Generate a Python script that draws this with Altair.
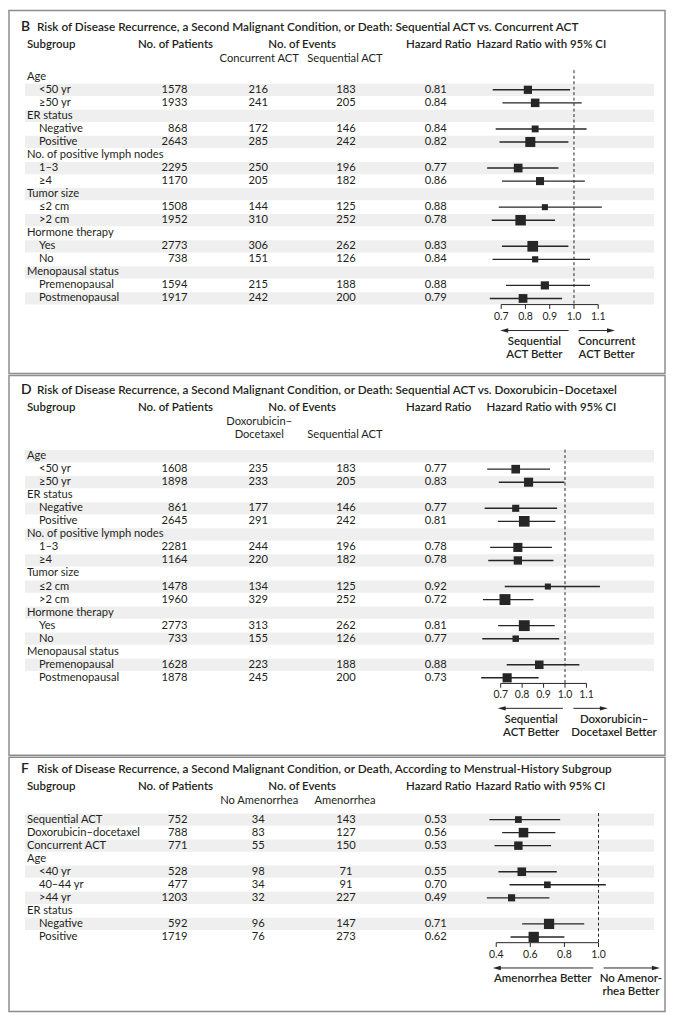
import altair as alt
import pandas as pd

FONT = "Lato"
TXT = "#231f20"
INK = "#262626"
BAND = "#efefef"
FRAME = "#8d8d8d"
W = 658
ROW_PX = 13.08

# ---------------- Panel B ----------------
b_title = "Risk of Disease Recurrence, a Second Malignant Condition, or Death: Sequential ACT vs. Concurrent ACT"
b_labels = ["Age", "<50 yr", "≥50 yr", "ER status", "Negative", "Positive",
            "No. of positive lymph nodes", "1–3", "≥4", "Tumor size", "≤2 cm", ">2 cm",
            "Hormone therapy", "Yes", "No", "Menopausal status", "Premenopausal", "Postmenopausal"]
b_patients = [None, 1578, 1933, None, 868, 2643, None, 2295, 1170, None, 1508, 1952, None, 2773, 738, None, 1594, 1917]
b_ev_a = [None, 216, 241, None, 172, 285, None, 250, 205, None, 144, 310, None, 306, 151, None, 215, 242]
b_ev_b = [None, 183, 205, None, 146, 242, None, 196, 182, None, 125, 252, None, 262, 126, None, 188, 200]
b_hr = [None, 0.81, 0.84, None, 0.84, 0.82, None, 0.77, 0.86, None, 0.88, 0.78, None, 0.83, 0.84, None, 0.88, 0.79]
b_lo = [None, 0.665, 0.705, None, 0.677, 0.693, None, 0.642, 0.703, None, 0.690, 0.661, None, 0.703, 0.664, None, 0.720, 0.653]
b_hi = [None, 0.984, 1.032, None, 1.052, 0.977, None, 0.936, 1.045, None, 1.115, 0.922, None, 0.977, 1.066, None, 1.066, 0.951]
b_sub = [["Concurrent ACT"], ["Sequential ACT"]]
b_ticks = [0.7, 0.8, 0.9, 1.0, 1.1]
b_better_left = ["Sequential", "ACT Better"]
b_better_right = ["Concurrent", "ACT Better"]

# ---------------- Panel D ----------------
d_title = "Risk of Disease Recurrence, a Second Malignant Condition, or Death: Sequential ACT vs. Doxorubicin–Docetaxel"
d_labels = b_labels
d_patients = [None, 1608, 1898, None, 861, 2645, None, 2281, 1164, None, 1478, 1960, None, 2773, 733, None, 1628, 1878]
d_ev_a = [None, 235, 233, None, 177, 291, None, 244, 220, None, 134, 329, None, 313, 155, None, 223, 245]
d_ev_b = [None, 183, 205, None, 146, 242, None, 196, 182, None, 125, 252, None, 262, 126, None, 188, 200]
d_hr = [None, 0.77, 0.83, None, 0.77, 0.81, None, 0.78, 0.78, None, 0.92, 0.72, None, 0.81, 0.77, None, 0.88, 0.73]
d_lo = [None, 0.637, 0.691, None, 0.625, 0.687, None, 0.651, 0.642, None, 0.719, 0.617, None, 0.688, 0.614, None, 0.728, 0.609]
d_hi = [None, 0.930, 0.997, None, 0.963, 0.955, None, 0.939, 0.946, None, 1.163, 0.853, None, 0.952, 0.973, None, 1.067, 0.877]
d_sub = [["Doxorubicin–", "Docetaxel"], ["", "Sequential ACT"]]
d_ticks = [0.7, 0.8, 0.9, 1.0, 1.1]
d_better_left = ["Sequential", "ACT Better"]
d_better_right = ["Doxorubicin–", "Docetaxel Better"]

# ---------------- Panel F ----------------
f_title = "Risk of Disease Recurrence, a Second Malignant Condition, or Death, According to Menstrual-History Subgroup"
f_labels = ["Sequential ACT", "Doxorubicin–docetaxel", "Concurrent ACT", "Age", "<40 yr", "40–44 yr",
            ">44 yr", "ER status", "Negative", "Positive"]
f_patients = [752, 788, 771, None, 528, 477, 1203, None, 592, 1719]
f_ev_a = [34, 83, 55, None, 98, 34, 32, None, 96, 76]
f_ev_b = [143, 127, 150, None, 71, 91, 227, None, 147, 273]
f_hr = [0.53, 0.56, 0.53, None, 0.55, 0.70, 0.49, None, 0.71, 0.62]
f_lo = [0.360, 0.435, 0.390, None, 0.413, 0.478, 0.345, None, 0.552, 0.484]
f_hi = [0.775, 0.747, 0.722, None, 0.755, 1.043, 0.712, None, 0.916, 0.800]
f_sub = [["No Amenorrhea"], ["Amenorrhea"]]
f_ticks = [0.4, 0.6, 0.8, 1.0]
f_better_left = ["Amenorrhea Better"]
f_better_right = ["No Amenor-", "rhea Better"]

ONE = pd.DataFrame({"a": [0]})


def panel(letter, title, labels, patients, ev_a, ev_b, hr, lo, hi, sub, ticks,
          better_left, better_right, cfg):
    ppu = cfg["ppu"]
    x0 = cfg["anchor_val"] - cfg["anchor_px"] / ppu
    xs = alt.Scale(domain=[x0, x0 + W / ppu], nice=False, zero=False)
    H = cfg["height"]
    top = cfg["top"]
    ys = alt.Scale(domain=[top, top + H / ROW_PX], reverse=True, nice=False, zero=False)

    n = len(labels)
    has, indent, seen = [], [], False
    for p in patients:
        if p is None:
            seen = True
            has.append(False)
            indent.append(0)
        else:
            has.append(True)
            indent.append(1 if seen else 0)
    df = pd.DataFrame({
        "idx": list(range(n)),
        "label": labels,
        "has": has,
        "indent": indent,
        "pat": [str(v) if v is not None else "" for v in patients],
        "ea": [str(v) if v is not None else "" for v in ev_a],
        "eb": [str(v) if v is not None else "" for v in ev_b],
        "hrs": [f"{v:.2f}" if v is not None else "" for v in hr],
        "hr": [v if v is not None else 0 for v in hr],
        "lo": [v if v is not None else 0 for v in lo],
        "hi": [v if v is not None else 0 for v in hi],
        "shade": [(i % 2) == cfg["parity"] for i in range(n)],
    })
    base = alt.Chart(df)
    Y = alt.Y("idx:Q", scale=ys, axis=None)

    def XD(v):
        return alt.XDatum(v, type="quantitative", scale=xs, axis=None)

    def YD(v):
        return alt.YDatum(v, type="quantitative", scale=ys, axis=None)

    def text(s, x, yrow, align="left", weight="normal", size=11):
        return alt.Chart(ONE).mark_text(
            text=s, align=align, baseline="middle", font=FONT, fontSize=size,
            fontWeight=weight, color=TXT
        ).encode(x=alt.value(x), y=YD(yrow))

    def text_hr(s, v, yrow, weight=600, size=11.5):
        return alt.Chart(ONE).mark_text(
            text=s, align="center", baseline="middle", font=FONT, fontSize=size,
            fontWeight=weight, color=TXT
        ).encode(x=XD(v), y=YD(yrow))

    layers = []
    # shaded bands
    layers.append(
        base.transform_filter("datum.shade")
        .transform_calculate(y0="datum.idx - 0.47", y1="datum.idx + 0.47")
        .mark_rect(color=BAND)
        .encode(x=alt.value(16), x2=alt.value(647),
                y=alt.Y("y0:Q", scale=ys, axis=None), y2="y1:Q")
    )
    # reference dashed line at 1.0
    layers.append(
        alt.Chart(ONE).mark_rule(color=INK, strokeWidth=1, strokeDash=[3, 2.5])
        .encode(x=XD(1.0), y=YD(-0.5), y2=alt.Y2Datum(cfg["axis"]))
    )
    # CI lines
    layers.append(
        base.transform_filter("datum.has").mark_rule(color=INK, strokeWidth=1.4)
        .encode(x=alt.X("lo:Q", scale=xs, axis=None), x2="hi:Q", y=Y)
    )
    # square markers, size from precision of the estimate
    layers.append(
        base.transform_filter("datum.has")
        .transform_calculate(sz=f"pow({cfg['k']} / pow(log(datum.hi / datum.lo), {cfg['p']}), 2)")
        .mark_point(shape="square", filled=True, color=INK, opacity=1, strokeWidth=0)
        .encode(x=alt.X("hr:Q", scale=xs, axis=None), y=Y, size=alt.Size("sz:Q", scale=None))
    )
    # table text
    tx = dict(baseline="middle", font=FONT, fontSize=11.2, color=TXT)
    layers.append(base.transform_filter("datum.indent == 0").mark_text(align="left", **tx)
                  .encode(x=alt.value(18), y=Y, text="label:N"))
    layers.append(base.transform_filter("datum.indent == 1").mark_text(align="left", **tx)
                  .encode(x=alt.value(30), y=Y, text="label:N"))
    layers.append(base.mark_text(align="right", **tx).encode(x=alt.value(179), y=Y, text="pat:N"))
    layers.append(base.mark_text(align="center", **tx).encode(x=alt.value(250), y=Y, text="ea:N"))
    layers.append(base.mark_text(align="center", **tx).encode(x=alt.value(338), y=Y, text="eb:N"))
    layers.append(base.mark_text(align="center", **tx).encode(x=alt.value(428), y=Y, text="hrs:N"))

    # titles and headers
    layers.append(text(letter, 12, cfg["title"], weight=600, size=14))
    layers.append(text(title, 28, cfg["title"], weight=600, size=11.8))
    layers.append(text("Subgroup", 18, cfg["head"], weight=600, size=11.5))
    layers.append(text("No. of Patients", 167, cfg["head"], align="center", weight=600, size=11.5))
    layers.append(text("No. of Events", 294, cfg["head"], align="center", weight=600, size=11.5))
    layers.append(text("Hazard Ratio", 431, cfg["head"], align="center", weight=600, size=11.5))
    layers.append(text("Hazard Ratio with 95% CI", cfg["ci_x"], cfg["head"], weight=600, size=11.5))
    for col_x, lines in zip([251, 337], sub):
        for j, s in enumerate(lines):
            if s:
                layers.append(text(s, col_x, cfg["sub"][j], align="center", size=11.2))

    # axis
    tdf = pd.DataFrame({"t": ticks})
    layers.append(alt.Chart(ONE).mark_rule(color=INK, strokeWidth=1)
                  .encode(x=XD(ticks[0]), x2=alt.X2Datum(ticks[-1]), y=YD(cfg["axis"])))
    layers.append(alt.Chart(tdf).mark_rule(color=INK, strokeWidth=1)
                  .encode(x=alt.X("t:Q", scale=xs, axis=None), y=YD(cfg["axis"]),
                          y2=alt.Y2Datum(cfg["axis"] + 0.33)))
    layers.append(alt.Chart(tdf).mark_text(baseline="middle", align="center", font=FONT,
                                           fontSize=10.5, color=TXT)
                  .encode(x=alt.X("t:Q", scale=xs, axis=None), y=YD(cfg["lab"]),
                          text=alt.Text("t:Q", format=".1f")))

    # arrows
    la, lb = cfg["arrow_left"]
    ra, rb = cfg["arrow_right"]
    head = 4.0 / ppu
    layers.append(alt.Chart(ONE).mark_rule(color=INK, strokeWidth=1)
                  .encode(x=XD(lb + head), x2=alt.X2Datum(la), y=YD(cfg["arrow"])))
    layers.append(alt.Chart(ONE).mark_rule(color=INK, strokeWidth=1)
                  .encode(x=XD(ra), x2=alt.X2Datum(rb - head), y=YD(cfg["arrow"])))
    layers.append(alt.Chart(ONE).mark_point(shape="M-1,0L1,-0.55L1,0.55Z", filled=True,
                                            color=INK, opacity=1, size=64, strokeWidth=0)
                  .encode(x=XD(lb + head), y=YD(cfg["arrow"])))
    layers.append(alt.Chart(ONE).mark_point(shape="M1,0L-1,-0.55L-1,0.55Z", filled=True,
                                            color=INK, opacity=1, size=64, strokeWidth=0)
                  .encode(x=XD(rb - head), y=YD(cfg["arrow"])))
    for j, s in enumerate(better_left):
        layers.append(text_hr(s, cfg["left_c"], cfg["better"][j]))
    for j, s in enumerate(better_right):
        layers.append(text_hr(s, cfg["right_c"], cfg["better"][j]))

    return alt.layer(*layers).properties(width=W, height=H)


cfg_b = dict(ppu=243.3, anchor_val=0.7, anchor_px=493.7, height=364, top=-5.08, parity=1,
             title=-3.78, head=-2.41, sub=[-1.34], axis=17.47, lab=18.39, arrow=19.46,
             better=[20.37, 21.37], ci_x=469, k=2.02, p=1.5,
             arrow_left=(0.978, 0.696), arrow_right=(1.019, 1.169), left_c=0.837, right_c=1.135)
cfg_d = dict(ppu=215.0, anchor_val=0.7, anchor_px=493.2, height=381, top=-6.19, parity=0,
             title=-5.05, head=-3.71, sub=[-2.60, -1.61], axis=17.43, lab=18.35, arrow=19.34,
             better=[20.26, 21.22], ci_x=479, k=2.02, p=1.5,
             arrow_left=(0.99, 0.686), arrow_right=(1.039, 1.2), left_c=0.842, right_c=1.229)
cfg_f = dict(ppu=171.0, anchor_val=0.4, anchor_px=488.7, height=255, top=-4.78, parity=0,
             title=-3.86, head=-2.48, sub=[-1.41], axis=9.44, lab=10.40, arrow=11.38,
             better=[12.23, 13.26], ci_x=468, k=5.2, p=1.0,
             arrow_left=(0.969, 0.38), arrow_right=(1.03, 1.36), left_c=0.673, right_c=1.19)

pB = panel("B", b_title, b_labels, b_patients, b_ev_a, b_ev_b, b_hr, b_lo, b_hi, b_sub, b_ticks,
           b_better_left, b_better_right, cfg_b)
pD = panel("D", d_title, d_labels, d_patients, d_ev_a, d_ev_b, d_hr, d_lo, d_hi, d_sub, d_ticks,
           d_better_left, d_better_right, cfg_d)
pF = panel("F", f_title, f_labels, f_patients, f_ev_a, f_ev_b, f_hr, f_lo, f_hi, f_sub, f_ticks,
           f_better_left, f_better_right, cfg_f)

chart = (
    alt.vconcat(pB, pD, pF, spacing=0)
    .properties(padding=0, background="white")
    .configure_view(stroke=FRAME, strokeWidth=1.5)
)
chart.save("out.html", embed_options={"renderer": "svg", "actions": False})
